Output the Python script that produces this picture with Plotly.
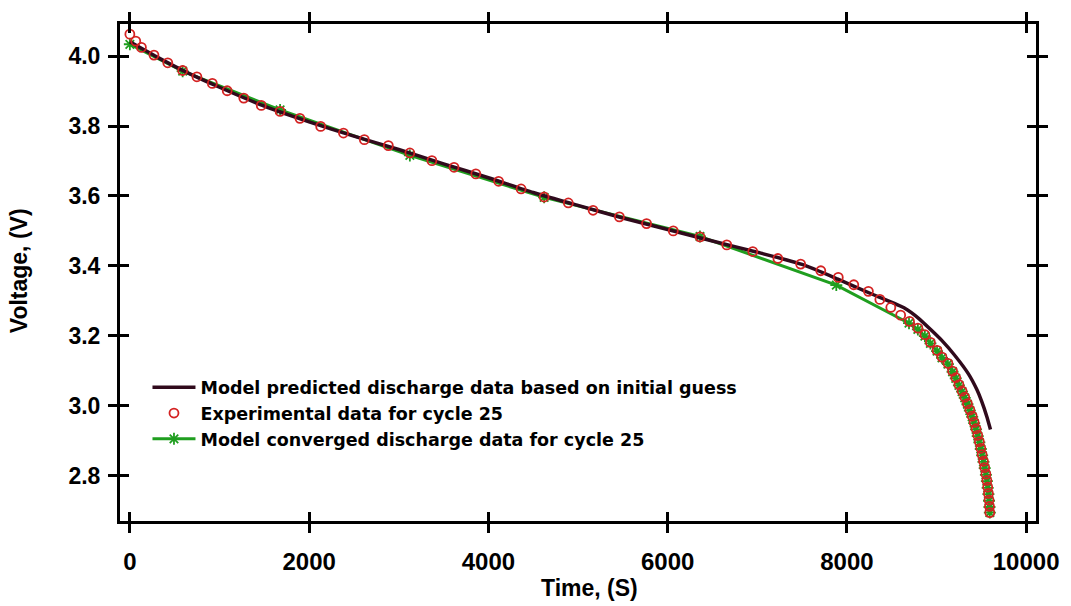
import plotly.graph_objects as go

# ---- data ----
exp_t = [0, 66, 129, 269, 423, 589, 748, 920, 1086, 1271, 1466, 1676, 1897, 2129, 2383,
         2616, 2884, 3124, 3370, 3617, 3860, 4114, 4365, 4622, 4892, 5168, 5462, 5765,
         6063, 6361, 6660, 6950, 7230, 7484, 7709, 7904, 8077, 8240, 8368, 8490, 8600,
         8699, 8792, 8870, 8932, 9006, 9061, 9127, 9179, 9215, 9250, 9285, 9315, 9345,
         9372, 9398, 9420, 9441, 9460, 9478, 9494, 9509, 9524, 9538, 9551, 9562, 9571,
         9579, 9586, 9591, 9595]
exp_v = [4.063, 4.043, 4.025, 4.003, 3.981, 3.959, 3.941, 3.922, 3.901, 3.880, 3.859,
         3.842, 3.822, 3.799, 3.780, 3.761, 3.744, 3.723, 3.701, 3.682, 3.663, 3.642,
         3.620, 3.597, 3.580, 3.559, 3.540, 3.521, 3.500, 3.483, 3.460, 3.441, 3.421,
         3.405, 3.386, 3.367, 3.346, 3.327, 3.304, 3.281, 3.259, 3.241, 3.222, 3.203,
         3.181, 3.158, 3.139, 3.121, 3.099, 3.080, 3.060, 3.042, 3.024, 3.006, 2.988,
         2.970, 2.952, 2.934, 2.915, 2.897, 2.878, 2.860, 2.841, 2.823, 2.804, 2.786,
         2.767, 2.749, 2.730, 2.712, 2.694]

conv_t = [0, 589, 1676, 3124, 4622, 6361, 7882, 8693, 8792, 8870, 8932, 9006, 9061,
          9127, 9179, 9215, 9250, 9285, 9315, 9345, 9372, 9398, 9420, 9441, 9460, 9478,
          9494, 9509, 9524, 9538, 9551, 9562, 9571, 9579, 9586, 9591, 9595]
conv_v = [4.034, 3.957, 3.846, 3.716, 3.596, 3.484, 3.345, 3.236, 3.218, 3.199, 3.178,
          3.156, 3.137, 3.119, 3.097, 3.078, 3.058, 3.040, 3.022, 3.004, 2.986, 2.968,
          2.950, 2.932, 2.913, 2.895, 2.876, 2.858, 2.839, 2.821, 2.802, 2.784, 2.765,
          2.747, 2.728, 2.710, 2.694]

pred_t = [0, 300, 600, 1000, 1500, 2000, 2500, 3000, 3500, 4000, 4500, 5000, 5500, 6000,
          6500, 7000, 7500, 7900, 8290, 8650, 8800, 8950, 9061, 9200, 9356, 9450, 9503,
          9560, 9602]
pred_v = [4.041, 3.998, 3.958, 3.911, 3.857, 3.812, 3.771, 3.733, 3.692, 3.652, 3.610,
          3.573, 3.537, 3.504, 3.471, 3.439, 3.404, 3.362, 3.318, 3.278, 3.250, 3.214,
          3.186, 3.145, 3.091, 3.046, 3.013, 2.970, 2.932]

x_ticks = [0, 2000, 4000, 6000, 8000, 10000]
x_tick_labels = ["0", "2000", "4000", "6000", "8000", "10000"]
y_ticks = [2.8, 3.0, 3.2, 3.4, 3.6, 3.8, 4.0]
y_tick_labels = ["2.8", "3.0", "3.2", "3.4", "3.6", "3.8", "4.0"]

names = ["Model predicted discharge data based on initial guess",
         "Experimental data for cycle 25",
         "Model converged discharge data for cycle 25"]

X_RANGE = [-110, 10110]
Y_RANGE = [2.670, 4.092]

FONT = "Arial, Liberation Sans, sans-serif"

fig = go.Figure()

fig.add_trace(go.Scatter(
    x=conv_t, y=conv_v, name=names[2], mode="lines+markers", legendrank=3,
    line=dict(color="#1f9e1f", width=3),
    marker=dict(symbol="asterisk-open", size=10, color="#1f9e1f",
                line=dict(color="#1f9e1f", width=1.8)),
))
fig.add_trace(go.Scatter(
    x=pred_t, y=pred_v, name=names[0], mode="lines", legendrank=1,
    line=dict(color="#300a1c", width=3.5, shape="spline", smoothing=0.6),
))
fig.add_trace(go.Scatter(
    x=exp_t, y=exp_v, name=names[1], mode="markers", legendrank=2,
    marker=dict(symbol="circle-open", size=9, color="#d42222",
                line=dict(color="#d42222", width=1.8)),
))
# empty helper trace so the inner-tick overlay axes are drawn
fig.add_trace(go.Scatter(x=[], y=[], xaxis="x2", yaxis="y2", showlegend=False,
                         hoverinfo="skip"))

axis_common = dict(showgrid=False, zeroline=False, tickcolor="black", tickwidth=3,
                   ticklen=9)

fig.update_layout(
    width=1071, height=606, autosize=False,
    margin=dict(l=120, r=26, t=22, b=85),
    paper_bgcolor="white", plot_bgcolor="white",
    font=dict(family=FONT, color="black"),
    showlegend=True,
    legend=dict(x=0.030, y=0.305, xanchor="left", yanchor="top",
                bgcolor="rgba(0,0,0,0)", borderwidth=0, itemwidth=43,
                font=dict(family="DejaVu Sans, sans-serif", size=17.5, weight="bold",
                          color="black")),
    xaxis=dict(range=X_RANGE, tickvals=x_ticks, ticktext=x_tick_labels,
               ticks="outside", mirror="ticks",
               showline=True, linecolor="black", linewidth=3,
               tickfont=dict(family=FONT, size=24, weight="bold"),
               ticklabelstandoff=8, **axis_common),
    yaxis=dict(range=Y_RANGE, tickvals=y_ticks, ticktext=y_tick_labels,
               ticks="outside", mirror="ticks", showline=True, linecolor="black",
               linewidth=3,
               tickfont=dict(family=FONT, size=23, weight="bold"),
               ticklabelstandoff=3, **axis_common),
    xaxis2=dict(range=X_RANGE, tickvals=x_ticks, ticks="inside", mirror="ticks",
                overlaying="x", anchor="y2", side="bottom", showline=False,
                showticklabels=False, **axis_common),
    yaxis2=dict(range=Y_RANGE, tickvals=y_ticks, ticks="inside", mirror="ticks",
                overlaying="y", anchor="x2", side="left", showline=False,
                showticklabels=False, **axis_common),
    annotations=[
        dict(text="Time, (S)", xref="paper", yref="paper", x=0.5124, y=-0.134,
             xanchor="center", yanchor="middle", showarrow=False,
             font=dict(family=FONT, size=23, weight="bold")),
        dict(text="Voltage, (V)", xref="paper", yref="paper", x=-0.110, y=0.503,
             xanchor="center", yanchor="middle", showarrow=False, textangle=-90,
             font=dict(family=FONT, size=23, weight="bold")),
    ],
)

fig.write_html("out.html",
               config={"displayModeBar": False, "responsive": False},
               post_script="document.body.style.margin='0px';")
